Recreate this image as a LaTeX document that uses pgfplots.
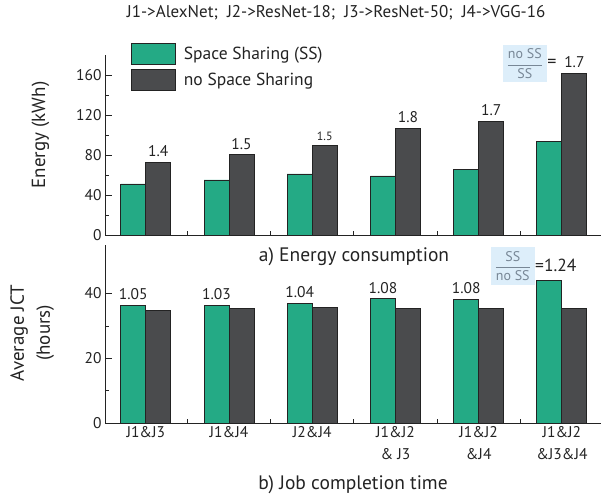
\documentclass[border=0pt]{standalone}
\usepackage{fontspec}
\setmainfont{PT Sans}
\usepackage{pgfplots}
\pgfplotsset{compat=1.18}
\definecolor{ssgreen}{RGB}{36,170,133}
\definecolor{nogray}{RGB}{74,75,77}
\definecolor{boxblue}{RGB}{221,238,250}
\definecolor{fracgray}{RGB}{120,135,150}
\definecolor{axcol}{RGB}{35,35,35}
\begin{document}
\begin{tikzpicture}
\pgfplotsset{
  myaxis/.style={
    scale only axis, width=496pt, anchor=south west,
    xmin=-0.49, xmax=5.47,
    axis x line*=bottom, axis y line*=left,
    axis line style={line width=0.9pt, color=axcol, -},
    tick style={line width=0.8pt, color=axcol},
    major tick length=7pt, minor tick length=3.5pt,
    tick align=inside,
    xtick={0,...,5}, major x tick style={draw=none},
    minor xtick={0.5,1.5,2.5,3.5,4.5},
    /pgf/number format/assume math mode=true,
    tick label style={font=\fontsize{15.5}{22}\selectfont, text=axcol},
    label style={font=\fontsize{19}{26}\selectfont, text=axcol},
    clip=false,
  },
  mybar/.style={ybar, bar width=25pt, draw=axcol, line width=0.9pt},
  barlab/.style={nodes near coords, point meta=explicit symbolic,
    every node near coord/.append style={font=\fontsize{15.5}{16}\selectfont, text=axcol, inner sep=0pt, yshift=5pt, xshift=#1}},
}
% ---------- top axis: energy ----------
\begin{axis}[myaxis, at={(105pt,262pt)}, height=180pt,
  ymin=0, ymax=180, ytick={0,40,...,160}, minor y tick num=1,
  xticklabels={},
  xlabel={a) Energy consumption},
  xlabel style={at={(axis description cs:0.502,-0.122)}, anchor=center, font=\fontsize{19.5}{22}\selectfont},
  ylabel={Energy (kWh)},
  ylabel style={at={(axis description cs:-0.130,0.556)}, anchor=center},
  title={J1->AlexNet;\ \ J2->ResNet-18;\ \ J3->ResNet-50;\ \ J4->VGG-16},
  title style={at={(axis description cs:0.466,1.20)}, anchor=center, font=\fontsize{17}{18}\selectfont, text=axcol},
  legend style={at={(axis description cs:0.052,1.067)}, anchor=north west,
    draw=none, fill=none, inner sep=0pt, row sep=4pt, column sep=8pt,
    font=\fontsize{17.5}{20}\selectfont, text=axcol, nodes={inner sep=0pt}},
  legend cell align=left,
]
\addplot[mybar, fill=ssgreen, bar shift=-12.5pt,
  legend image code/.code={\draw[fill=ssgreen, draw=axcol, line width=0.9pt] (0pt,-10.5pt) rectangle (44pt,10.5pt);}]
  coordinates {(0,51) (1,55) (2,61) (3,59) (4,65.3) (5,93.5)};
\addlegendentry{Space Sharing (SS)}
\addplot[mybar, fill=nogray, bar shift=12.5pt, barlab=12.5pt,
  legend image code/.code={\draw[fill=nogray, draw=axcol, line width=0.9pt] (0pt,-10.5pt) rectangle (44pt,10.5pt);}]
  coordinates {(0,72.7)[1.4] (1,80.3)[1.5] (2,89.3)[{}] (3,106.7)[1.8] (4,113.7)[1.7] (5,161.7)[1.7]};
\addlegendentry{no Space Sharing}
\addplot[ybar, bar width=25pt, bar shift=12.5pt, draw=none, fill=none, forget plot,
  nodes near coords, point meta=explicit symbolic,
  every node near coord/.append style={font=\fontsize{12}{13}\selectfont, text=axcol, inner sep=0pt, yshift=5pt, xshift=12.5pt}]
  coordinates {(2,89.3)[1.5]};
\node[fill=boxblue, inner sep=0pt, text=fracgray, minimum width=44pt, minimum height=37pt,
  font=\fontsize{14}{15}\selectfont] (f1) at (axis cs:4.555,171.5)
  {$\displaystyle\frac{\mbox{no SS}}{\mbox{SS}}$};
\node[anchor=west, inner sep=0pt, text=axcol, font=\fontsize{18}{18}\selectfont] at ([yshift=0.5pt]f1.east) {=};
\end{axis}
% ---------- bottom axis: JCT ----------
\begin{axis}[myaxis, at={(105pt,74pt)}, height=178pt,
  ymin=0, ymax=55, ytick={0,20,40}, minor y tick num=1,
  xticklabels={J1\&J3, J1\&J4, J2\&J4, {J1\&J2\\\& J3}, {J1\&J2\\\&J4}, {J1\&J2\\\&J3\&J4}},
  xticklabel style={align=center},
  xlabel={b) Job completion time},
  xlabel style={at={(axis description cs:0.500,-0.348)}, anchor=center, font=\fontsize{19.5}{22}\selectfont},
  ylabel={Average JCT\\(hours)},
  ylabel style={at={(axis description cs:-0.147,0.506)}, anchor=center, align=center},
]
\addplot[mybar, fill=ssgreen, bar shift=-12.5pt, barlab=-12.5pt]
  coordinates {(0,36.4)[1.05] (1,36.4)[1.03] (2,37.0)[1.04] (3,38.4)[1.08] (4,38.2)[1.08] (5,44.0)[{}]};
\addplot[mybar, fill=nogray, bar shift=12.5pt]
  coordinates {(0,34.8) (1,35.4) (2,35.7) (3,35.4) (4,35.4) (5,35.4)};
\node[fill=boxblue, inner sep=0pt, text=fracgray, minimum width=44pt, minimum height=38pt,
  font=\fontsize{14}{15}\selectfont] (f2) at (axis cs:4.41,48.5)
  {$\displaystyle\frac{\mbox{SS}}{\mbox{no SS}}$};
\node[anchor=west, inner sep=0pt, text=axcol, font=\fontsize{17.5}{18}\selectfont] at ([yshift=0.5pt]f2.east) {=1.24};
\end{axis}
\pgfresetboundingbox
\useasboundingbox (0pt,0pt) rectangle (602pt,497pt);
\end{tikzpicture}
\end{document}
